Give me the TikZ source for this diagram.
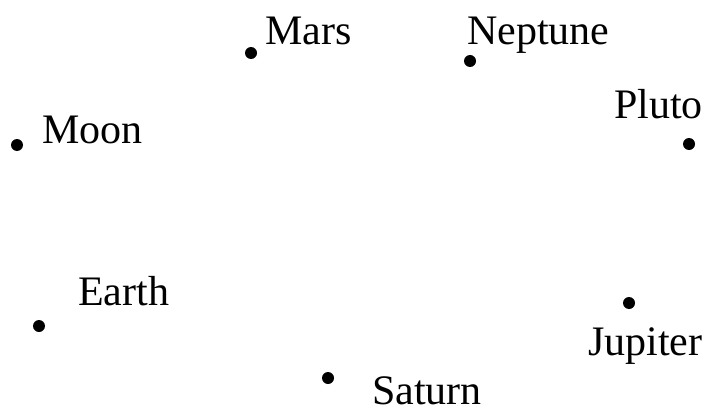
\documentclass[tikz,border=0pt]{standalone}
\usepackage{fontspec}
\setmainfont{Liberation Serif}
\begin{document}
\begin{tikzpicture}[x=1pt,y=-1pt,
  dot/.style={circle,fill=black,inner sep=0pt,minimum size=12pt},
  lbl/.style={anchor=base west,inner sep=0pt,font=\fontsize{42}{42}\selectfont}]
\useasboundingbox (0,0) rectangle (706,409);
\node[dot] (mars) at (251,53) {};
\node[lbl] (marsl) at (265,45) {Mars};
\node[dot] (nep) at (470,61) {};
\node[lbl] (nepl) at (467,45) {Neptune};
\node[dot] (moon) at (17,145) {};
\node[lbl] (moonl) at (42,143) {Moon};
\node[dot] (pluto) at (689,144) {};
\node[lbl] (plutol) at (614,118) {Pluto};
\node[dot] (earth) at (39,326) {};
\node[lbl] (earthl) at (78,305) {Earth};
\node[dot] (jup) at (629,303) {};
\node[lbl] (jupl) at (588,355) {Jupiter};
\node[dot] (sat) at (328,378) {};
\node[lbl,text depth=0pt] (satl) at (372,404) {Saturn};
\end{tikzpicture}
\end{document}
